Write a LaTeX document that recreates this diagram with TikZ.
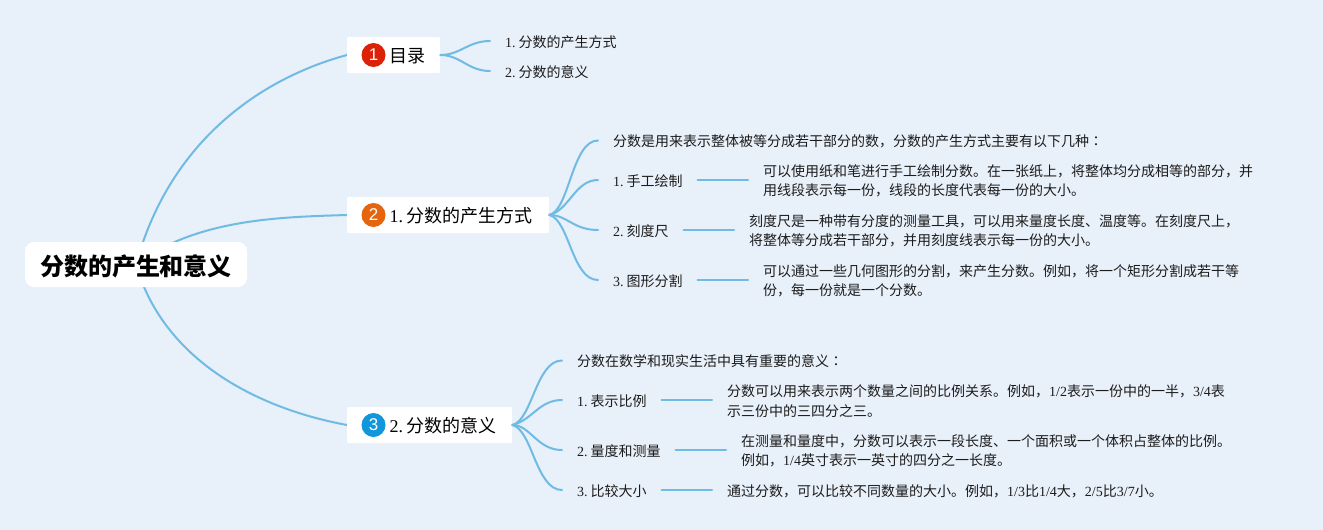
\documentclass[tikz,border=0pt]{standalone}
\usepackage{fontspec}
\setmainfont{Noto Sans CJK SC}
\newfontfamily\latfont{Liberation Serif}
\newfontfamily\badgefont{Liberation Sans}
\newfontfamily\tcfont{Noto Sans CJK TC}
\newcommand\ltn[1]{{\latfont #1}}
\newcommand\num[1]{{\latfont #1.}\kern.2em}
\usetikzlibrary{backgrounds}
\definecolor{bgc}{HTML}{E8F0F9}
\definecolor{linkc}{HTML}{70BBE4}
\definecolor{txtc}{HTML}{1C1C1C}
\definecolor{badgeA}{HTML}{DC2108}
\definecolor{badgeB}{HTML}{E5650F}
\definecolor{badgeC}{HTML}{1296DB}
\tikzset{
  rootbox/.style={fill=white,rounded corners=9pt,anchor=center,minimum width=222pt,minimum height=45pt,inner sep=0pt,font=\fontsize{24}{28}\selectfont\bfseries,text=black},
  topicbox/.style={fill=white,rounded corners=1pt,anchor=west,minimum height=36pt,inner sep=0pt},
  topictext/.style={anchor=west,inner sep=0pt,font=\fontsize{18}{22}\selectfont,text=black},
  leaf/.style={anchor=west,inner xsep=15pt,inner ysep=0pt,text height=14pt,text depth=1.4pt,font=\fontsize{14}{20}\selectfont,text=txtc},
  detail/.style={anchor=west,inner xsep=15pt,inner ysep=0pt,yshift=-1pt,align=left,font=\fontsize{14}{19.5}\selectfont,text=txtc},
  badge/.style={circle,minimum size=24pt,inner sep=0pt,text=white,font=\fontsize{17}{18}\selectfont\badgefont},
  link/.style={draw=linkc,line width=2pt,line cap=round}
}
\begin{document}
\begin{tikzpicture}[x=1pt,y=-1pt]
\useasboundingbox (0,0) rectangle (1323,530);
\begin{scope}[on background layer]
\fill[bgc] (0,0) rectangle (1323,530);
\end{scope}

\node[rootbox,text depth=0pt] (root) at (136,264.5) {\raisebox{-2pt}{分数的产生和意义}};

\node[topicbox,minimum width=93pt] (t1) at (347,55) {};
\node[topicbox,minimum width=202pt] (t2) at (347,215) {};
\node[topicbox,minimum width=165pt] (t3) at (347,425) {};

\node[badge,fill=badgeA] (b1) at (373.5,55) {1};
\node[badge,fill=badgeB] (b2) at (373.5,215) {2};
\node[badge,fill=badgeC] (b3) at (373.5,425) {3};
\node[topictext] (l1) at (389,56.5) {目录};
\node[topictext] (l2) at (389.5,215.5) {\num{1}分数的产生方式};
\node[topictext] (l3) at (389.5,425.5) {\num{2}分数的意义};

% topic 1 leaves
\node[leaf] (a1) at (490,41) {\num{1}分数的产生方式};
\node[leaf] (a2) at (490,71) {\num{2}分数的意义};

% topic 2 leaves
\node[leaf] (c0) at (598,140.5) {分数是用来表示整体被等分成若干部分的数，分数的产生方式主要有以下几种{\tcfont ：}};
\node[leaf] (c1) at (598,180) {\num{1}手工绘制};
\node[leaf] (c2) at (598,230) {\num{2}刻度尺};
\node[leaf] (c3) at (598,280) {\num{3}图形分割};
\coordinate (c1e) at (748,180);
\coordinate (c2e) at (734,230);
\coordinate (c3e) at (748,280);
\node[detail] (d1) at (c1e) {可以使用纸和笔进行手工绘制分数。在一张纸上，将整体均分成相等的部分，并\\用线段表示每一份，线段的长度代表每一份的大小。};
\node[detail] (d2) at (c2e) {刻度尺是一种带有分度的测量工具，可以用来量度长度、温度等。在刻度尺上，\\将整体等分成若干部分，并用刻度线表示每一份的大小。};
\node[detail] (d3) at (c3e) {可以通过一些几何图形的分割，来产生分数。例如，将一个矩形分割成若干等\\份，每一份就是一个分数。};

% topic 3 leaves
\node[leaf] (e0) at (562,360.5) {分数在数学和现实生活中具有重要的意义{\tcfont ：}};
\node[leaf] (e1) at (562,400) {\num{1}表示比例};
\node[leaf] (e2) at (562,450) {\num{2}量度和测量};
\node[leaf] (e3) at (562,490) {\num{3}比较大小};
\coordinate (e1e) at (712,400);
\coordinate (e2e) at (726,450);
\coordinate (e3e) at (712,490);
\node[detail] (f1) at (e1e) {分数可以用来表示两个数量之间的比例关系。例如，\ltn{1/2}表示一份中的一半，\ltn{3/4}表\\示三份中的三四分之三。};
\node[detail] (f2) at (e2e) {在测量和量度中，分数可以表示一段长度、一个面积或一个体积占整体的比例。\\例如，\ltn{1/4}英寸表示一英寸的四分之一长度。};
\node[detail] (f3) at (e3e) {通过分数，可以比较不同数量的大小。例如，\ltn{1/3}比\ltn{1/4}大，\ltn{2/5}比\ltn{3/7}小。};

\begin{scope}[on background layer]
\draw[link] (root.center) .. controls (170,140) and (262,78) .. (t1.west);
\draw[link] (root.center) .. controls (197,218) and (285,217) .. (t2.west);
\draw[link] (root.center) .. controls (165,365) and (265,410) .. (t3.west);
\end{scope}

\draw[link] (t1.east) .. controls +(20,0) and +(-22,0) .. (a1.west);
\draw[link] (t1.east) .. controls +(20,0) and +(-22,0) .. (a2.west);

\draw[link] (t2.east) .. controls +(20,-5) and +(-26,0) .. (c0.west);
\draw[link] (t2.east) .. controls +(20,-5) and +(-23,0) .. (c1.west);
\draw[link] (t2.east) .. controls +(18,0) and +(-25,0) .. (c2.west);
\draw[link] (t2.east) .. controls +(20,5) and +(-26,0) .. (c3.west);

\draw[link] (t3.east) .. controls +(20,-5) and +(-26,0) .. (e0.west);
\draw[link] (t3.east) .. controls +(20,-5) and +(-23,0) .. (e1.west);
\draw[link] (t3.east) .. controls +(18,0) and +(-25,0) .. (e2.west);
\draw[link] (t3.east) .. controls +(20,5) and +(-26,0) .. (e3.west);

\draw[link] (c1) -- (c1e);
\draw[link] (c2) -- (c2e);
\draw[link] (c3) -- (c3e);
\draw[link] (e1) -- (e1e);
\draw[link] (e2) -- (e2e);
\draw[link] (e3) -- (e3e);
\end{tikzpicture}
\end{document}
